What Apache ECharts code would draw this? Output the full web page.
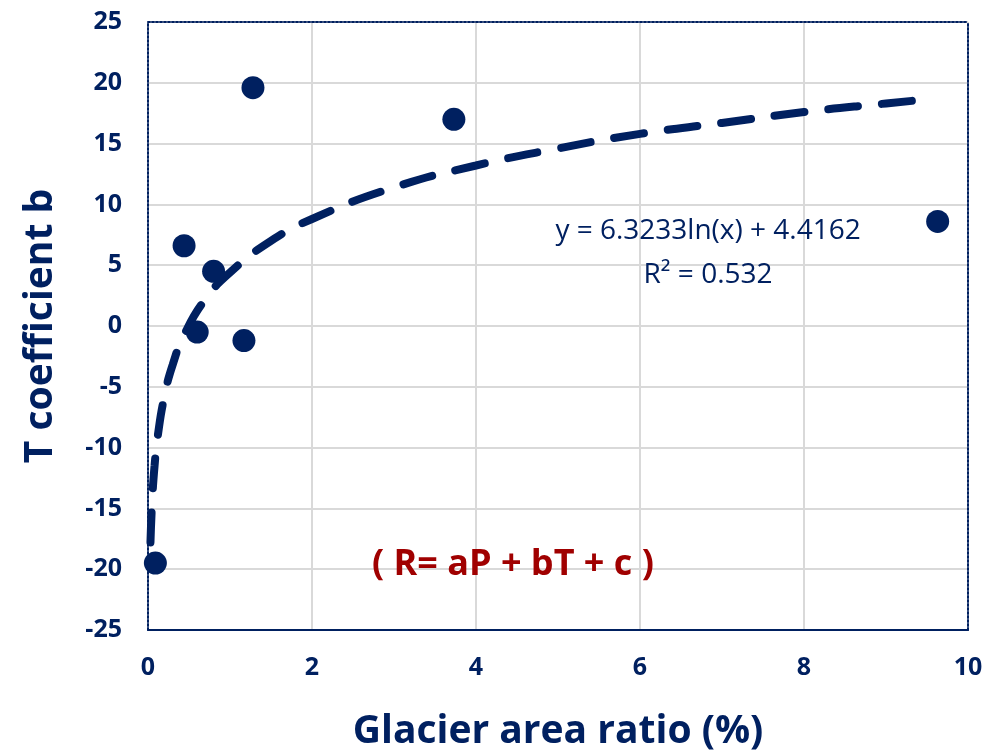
<!DOCTYPE html>
<html>
<head>
<meta charset="utf-8">
<script src="https://cdn.jsdelivr.net/npm/echarts@6/dist/echarts.min.js"></script>
<style>
  html, body { margin: 0; padding: 0; background: #fff; }
  #chart { width: 987px; height: 750px; }
</style>
</head>
<body>
<div id="chart"></div>
<script>
// glacier area ratio (%) vs T coefficient b
const glacierRatio = [0.09, 0.44, 0.6, 0.8, 1.17, 1.28, 3.73, 9.63];
const coeffB = [-19.5, 6.6, -0.5, 4.5, -1.2, 19.6, 17.0, 8.6];

// log trendline
const trendX = [0.03, 0.05, 0.08, 0.12, 0.2, 0.3, 0.45, 0.7, 1, 1.5, 2, 3, 4, 5, 6, 7, 8, 9, 9.6];
const trendY = [-17.8, -14.5, -11.5, -9.0, -5.8, -3.2, -0.6, 2.2, 4.4, 7.0, 8.8, 11.4, 13.2, 14.6, 15.8, 16.7, 17.6, 18.3, 18.7];

const navy = '#002060';
const fontFam = '"Open Sans", "Noto Sans", sans-serif';

const chart = echarts.init(document.getElementById('chart'));
const option = {
  backgroundColor: '#fff',
  animation: false,
  textStyle: { fontFamily: fontFam },
  grid: { left: 148, right: 19, top: 22, bottom: 120, outerBoundsMode: 'none', containLabel: false },
  xAxis: [
    {
      type: 'value', min: 0, max: 10, interval: 2,
      name: 'Glacier area ratio (%)', nameLocation: 'middle', nameGap: 82,
      nameTextStyle: { color: navy, fontSize: 39, fontWeight: 'bold', fontFamily: fontFam },
      axisLine: { show: true, onZero: false, lineStyle: { color: navy, width: 2 } },
      axisTick: { show: false },
      axisLabel: { color: navy, fontSize: 25, fontWeight: 'bold', margin: 25, fontFamily: fontFam },
      splitLine: { show: true, lineStyle: { color: '#d9d9d9', width: 2 } }
    },
    {
      type: 'value', position: 'top', min: 0, max: 10,
      axisLine: { show: true, onZero: false, lineStyle: { color: navy, width: 2, type: 'dotted' } },
      axisTick: { show: false }, axisLabel: { show: false }, splitLine: { show: false }
    }
  ],
  yAxis: [
    {
      type: 'value', min: -25, max: 25, interval: 5,
      name: 'T coefficient b', nameLocation: 'middle', nameGap: 88, nameRotate: 90,
      nameTextStyle: { color: navy, fontSize: 39, fontWeight: 'bold', fontFamily: fontFam },
      axisLine: { show: true, onZero: false, lineStyle: { color: navy, width: 2, type: 'dotted' } },
      axisTick: { show: false },
      axisLabel: { color: navy, fontSize: 25, fontWeight: 'bold', margin: 26, fontFamily: fontFam },
      splitLine: { show: true, lineStyle: { color: '#d9d9d9', width: 2 } }
    },
    {
      type: 'value', position: 'right', min: -25, max: 25,
      axisLine: { show: true, onZero: false, lineStyle: { color: navy, width: 2, type: 'dotted' } },
      axisTick: { show: false }, axisLabel: { show: false }, splitLine: { show: false }
    }
  ],
  series: [
    {
      name: 'trend', type: 'line', smooth: true, symbol: 'none',
      data: trendX.map((x, i) => [x, trendY[i]]),
      lineStyle: { color: navy, width: 8, type: [30, 24], cap: 'round' },
      z: 3
    },
    {
      name: 'points', type: 'scatter', symbolSize: 23,
      data: glacierRatio.map((x, i) => [x, coeffB[i]]),
      itemStyle: { color: navy, opacity: 1 },
      z: 4
    },
    {
      name: 'labels', type: 'scatter', symbolSize: 0, silent: true,
      itemStyle: { opacity: 1 },
      data: [
        { value: [6.83, 7.8], label: { show: true, formatter: 'y = 6.3233ln(x) + 4.4162', fontSize: 28 } },
        { value: [6.83, 4.2], label: { show: true, formatter: 'R² = 0.532', fontSize: 28 } },
        { value: [4.45, -19.6], label: { show: true, formatter: '( R= aP + bT + c )', fontSize: 36, fontWeight: 'bold', color: '#a00000' } }
      ],
      label: { position: 'inside', color: navy, fontFamily: fontFam },
      z: 5
    }
  ]
};
chart.setOption(option);
</script>
</body>
</html>
